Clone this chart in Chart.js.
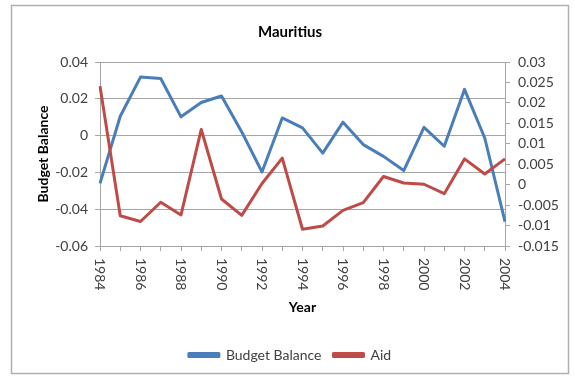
<!DOCTYPE html>
<html>
<head>
<meta charset="utf-8">
<script src="https://cdn.jsdelivr.net/npm/chart.js@4/dist/chart.umd.min.js"></script>
<style>
  html, body { margin: 0; padding: 0; background: #fff; }
  #wrap { width: 575px; height: 381px; position: relative; }
</style>
</head>
<body>
<div id="wrap"><canvas id="c" width="575" height="381"></canvas></div>
<script>
const years = ['1984','1985','1986','1987','1988','1989','1990','1991','1992','1993','1994','1995','1996','1997','1998','1999','2000','2001','2002','2003','2004'];
const budgetBalance = [-0.026, 0.0105, 0.0318, 0.031, 0.0102, 0.018, 0.0215, 0.002, -0.0198, 0.0096, 0.0042, -0.0095, 0.0073, -0.0049, -0.0113, -0.019, 0.0045, -0.0058, 0.0251, -0.0013, -0.0467];
const aid = [0.0241, -0.0076, -0.009, -0.0043, -0.0074, 0.0135, -0.0035, -0.0075, 0.0003, 0.0065, -0.0109, -0.0101, -0.0063, -0.0044, 0.002, 0.0004, 0.0001, -0.0022, 0.0063, 0.0026, 0.0063];
const leftTickLabels = ['-0.06','-0.04','-0.02','0','0.02','0.04'];
const rightTickLabels = ['-0.015','-0.01','-0.005','0','0.005','0.01','0.015','0.02','0.025','0.03'];
const xTickLabels = ['1984','1986','1988','1990','1992','1994','1996','1998','2000','2002','2004'];

const FONT = 'Lato';
const GRID = '#a6a6a6';
const TXT = '#404040';

const frame = {
  id: 'frame',
  beforeDraw(chart) {
    const ctx = chart.ctx;
    ctx.save();
    ctx.fillStyle = '#fff';
    ctx.fillRect(0, 0, chart.width, chart.height);
    ctx.strokeStyle = '#b0b0b0';
    ctx.lineWidth = 1.5;
    ctx.strokeRect(11.5, 5.5, 557, 368);
    ctx.restore();
  },
  afterDraw(chart) {
    const ctx = chart.ctx;
    const xs = chart.scales.x;
    ctx.save();
    ctx.fillStyle = TXT;
    ctx.font = '14px ' + FONT;
    ctx.textAlign = 'left';
    ctx.textBaseline = 'middle';
    xTickLabels.forEach(lbl => {
      const px = xs.getPixelForValue(years.indexOf(lbl));
      ctx.save();
      ctx.translate(px, xs.top + 12);
      ctx.rotate(Math.PI / 2);
      ctx.fillText(lbl, 0, 0);
      ctx.restore();
    });
    ctx.restore();
  }
};

new Chart(document.getElementById('c'), {
  type: 'line',
  data: {
    labels: years,
    datasets: [
      { label: 'Budget Balance', data: budgetBalance, yAxisID: 'y', borderColor: '#4a7ebb', backgroundColor: '#4a7ebb', borderWidth: 3, pointRadius: 0, tension: 0, order: 1, borderJoinStyle: 'round' },
      { label: 'Aid', data: aid, yAxisID: 'y1', borderColor: '#be4b48', backgroundColor: '#be4b48', borderWidth: 3, pointRadius: 0, tension: 0, order: 0, borderJoinStyle: 'round' }
    ]
  },
  options: {
    responsive: false,
    animation: false,
    devicePixelRatio: 1,
    layout: { padding: { left: 12, right: 7, top: 6, bottom: 9 } },
    plugins: {
      title: { display: true, text: 'Mauritius', color: '#000', font: { family: FONT, size: 15, weight: 'bold' }, padding: { top: 17, bottom: 21 } },
      legend: {
        position: 'bottom',
        labels: {
          color: TXT, font: { family: FONT, size: 14 }, boxWidth: 30, boxHeight: 3, padding: 12,
          sort: (a, b) => a.datasetIndex - b.datasetIndex
        }
      },
      tooltip: { enabled: false }
    },
    scales: {
      x: {
        type: 'category', offset: false,
        grid: { drawOnChartArea: false, drawTicks: true, tickLength: 5, color: GRID },
        border: { display: true, color: GRID },
        ticks: { display: false },
        title: { display: true, text: 'Year', color: '#000', font: { family: FONT, size: 14, weight: 'bold' }, padding: { top: 0, bottom: 20 } },
        afterFit: s => { s.height = 90; }
      },
      y: {
        position: 'left', min: -0.06, max: 0.04,
        afterBuildTicks: s => { s.ticks = leftTickLabels.map(v => ({ value: parseFloat(v), label: v })); },
        ticks: { autoSkip: false, color: TXT, font: { family: FONT, size: 14 }, padding: 7, callback: (v) => leftTickLabels.find(t => parseFloat(t) === v) },
        grid: { color: GRID, tickLength: 5, drawTicks: true },
        border: { display: true, color: GRID },
        title: { display: true, text: 'Budget Balance', color: '#000', font: { family: FONT, size: 14, weight: 'bold' }, padding: { top: 23, bottom: 0 } },
        afterFit: s => { s.width = 88; }
      },
      y1: {
        position: 'right', min: -0.015, max: 0.03,
        afterBuildTicks: s => { s.ticks = rightTickLabels.map(v => ({ value: parseFloat(v), label: v })); },
        ticks: { autoSkip: false, color: TXT, font: { family: FONT, size: 14 }, padding: 8, callback: (v) => rightTickLabels.find(t => parseFloat(t) === v) },
        grid: { drawOnChartArea: false, color: GRID, tickLength: 5, drawTicks: true },
        border: { display: true, color: GRID },
        afterFit: s => { s.width = 63; }
      }
    }
  },
  plugins: [frame]
});
</script>
</body>
</html>
